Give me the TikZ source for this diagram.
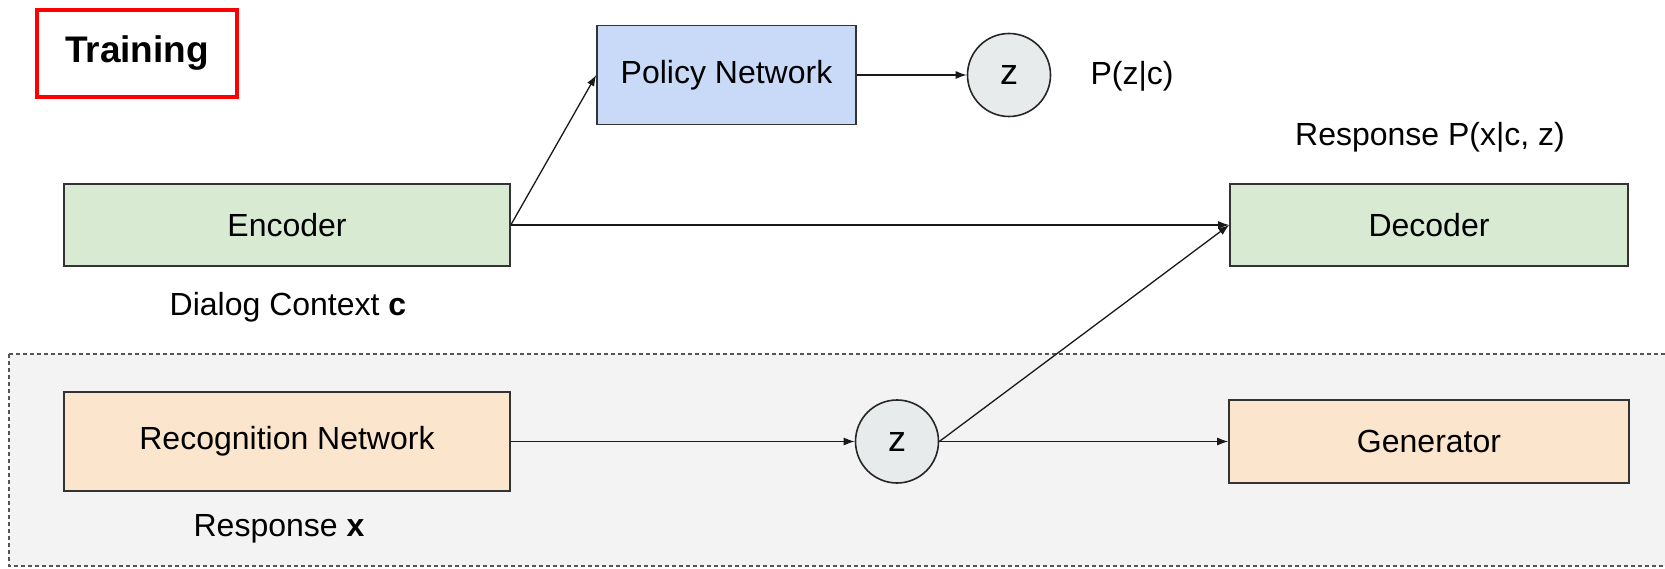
\documentclass[tikz,border=0pt]{standalone}
\usepackage{fontspec}
\setmainfont{Liberation Sans}
\usetikzlibrary{arrows.meta}
\definecolor{encgreen}{HTML}{D9EAD3}
\definecolor{polblue}{HTML}{C9DAF8}
\definecolor{recorange}{HTML}{FCE5CD}
\definecolor{zgray}{HTML}{E8EBEC}
\definecolor{bggray}{HTML}{F3F3F3}
\definecolor{edgegray}{HTML}{333333}
\definecolor{dashgray}{HTML}{555555}
\definecolor{trainred}{HTML}{FF0000}
\begin{document}
\begin{tikzpicture}[x=1pt,y=-1pt,
  txt/.style={font=\fontsize{32}{38}\selectfont, inner sep=0pt},
  blockbox/.style={txt, draw=edgegray, line width=1.6pt, rectangle},
  latent/.style={txt, font=\fontsize{36}{40}\selectfont, draw=black!85, line width=1.6pt, circle, fill=zgray, minimum size=83pt},
  conn/.style={draw=black!90, line width=1.3pt, -{Latex[length=11pt,width=8pt]}},
  lbl/.style={txt}
]
\clip (0,0) rectangle (1665,569);
\useasboundingbox (0,0) rectangle (1665,569);
\fill[white] (0,0) rectangle (1665,569);

% dashed recognition region
\draw[dashgray, fill=bggray, line width=1.3pt, dash pattern=on 4pt off 3pt] (9,354) rectangle (1675,566);

% Training label
\node[draw=trainred, line width=3.5pt, minimum width=200pt, minimum height=87pt, inner sep=0pt,
      font=\fontsize{37}{44}\selectfont\bfseries] (train) at (137,53.5) {Training};

% blocks
\node[blockbox, fill=encgreen, minimum width=446pt, minimum height=82pt] (enc) at (287,225) {Encoder};
\node[blockbox, fill=encgreen, minimum width=398pt, minimum height=82pt] (dec) at (1429,225) {Decoder};
\node[blockbox, fill=polblue, minimum width=259pt, minimum height=99pt] (pol) at (726.5,75) {Policy Network};
\node[blockbox, fill=recorange, minimum width=446pt, minimum height=99pt] (rec) at (287,441.5) {Recognition Network};
\node[blockbox, fill=recorange, minimum width=400pt, minimum height=83pt] (gen) at (1429,441.5) {Generator};

% latent nodes
\node[latent] (zt) at (1009,75) {z};
\node[latent] (zb) at (897,441.5) {z};

% labels
\node[lbl] (pzc) at (1132,76) {P(z|c)};
\node[lbl] (pxcz) at (1430,137) {Response P(x|c, z)};
\node[lbl] (ctx) at (288,307) {Dialog Context \textbf{c}};
\node[lbl] (resp) at (279,529) {Response \textbf{x}};

% connectors
\draw[conn] (enc.east) -- (pol.west);
\draw[conn] (enc.east) -- (dec.west);
\draw[conn] (pol.east) -- (zt.west);
\draw[conn] (rec.east) -- (zb.west);
\draw[conn] (zb.east) -- (gen.west);
\draw[conn] (zb.east) -- (dec.west);
\end{tikzpicture}
\end{document}
